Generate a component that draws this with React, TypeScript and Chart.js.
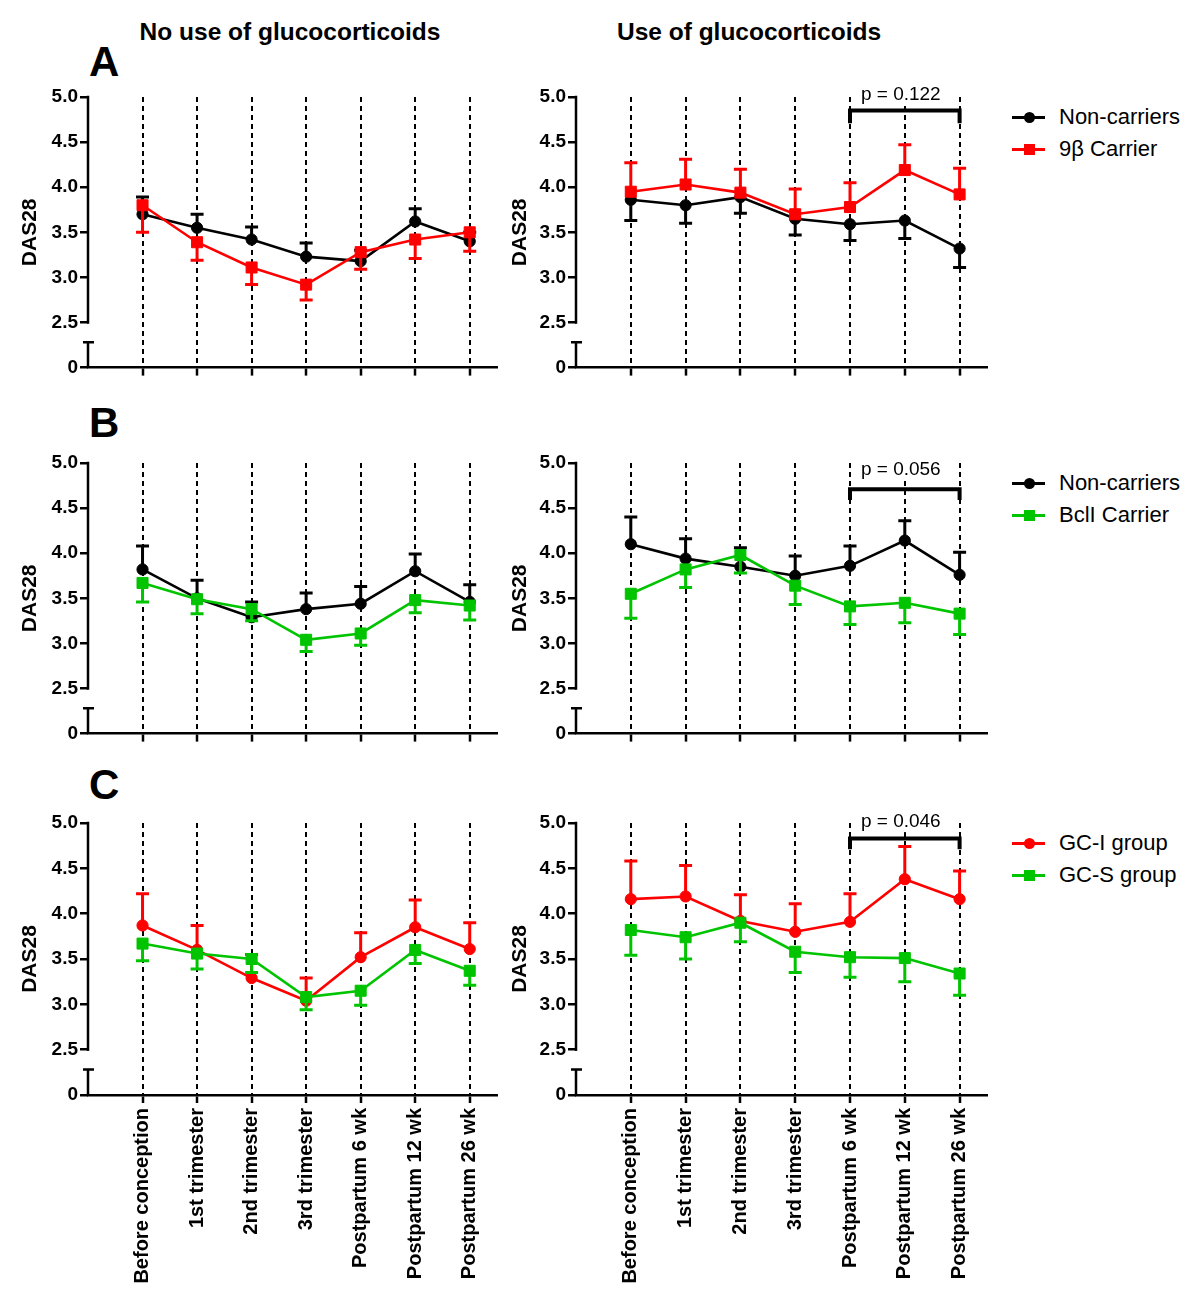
import React, { useEffect, useRef } from 'react';
import { Chart, registerables } from 'chart.js';

Chart.register(...registerables);

const FONT = '"Liberation Sans", Arial, Helvetica, sans-serif';

// ---------- categories & axis ticks ----------
const categories = [
  'Before conception',
  '1st trimester',
  '2nd trimester',
  '3rd trimester',
  'Postpartum 6 wk',
  'Postpartum 12 wk',
  'Postpartum 26 wk',
];
// The y axis is broken: the lowest position (2.0 on the internal scale) shows "0".
const yTickValues = [2.0, 2.5, 3.0, 3.5, 4.0, 4.5, 5.0];
const yTickLabels = ['0', '2.5', '3.0', '3.5', '4.0', '4.5', '5.0'];
const yMin = 2.0;
const yMax = 5.0;
const axisBreakTop = 2.28;
const axisBreakBottom = 2.5;

// ---------- Panel A ----------
const aNoGcNonCarriers = [3.7, 3.55, 3.42, 3.23, 3.18, 3.62, 3.4];
const aNoGcNonCarriersErr = [0.19, 0.15, 0.14, 0.15, 0.12, 0.14, 0.1];
const aNoGc9b = [3.8, 3.39, 3.11, 2.92, 3.28, 3.42, 3.5];
const aNoGc9bErr = [0.3, 0.2, 0.19, 0.17, 0.19, 0.21, 0.21];

const aGcNonCarriers = [3.86, 3.8, 3.89, 3.65, 3.59, 3.63, 3.32];
const aGcNonCarriersErr = [0.23, 0.2, 0.18, 0.18, 0.18, 0.2, 0.21];
const aGc9b = [3.95, 4.03, 3.94, 3.7, 3.78, 4.19, 3.92];
const aGc9bErr = [0.32, 0.28, 0.26, 0.28, 0.27, 0.28, 0.29];

// ---------- Panel B ----------
const bNoGcNonCarriers = [3.82, 3.5, 3.29, 3.38, 3.44, 3.8, 3.46];
const bNoGcNonCarriersErr = [0.26, 0.2, 0.17, 0.18, 0.19, 0.19, 0.19];
const bNoGcBcl = [3.67, 3.49, 3.38, 3.04, 3.11, 3.48, 3.42];
const bNoGcBclErr = [0.21, 0.16, 0.13, 0.13, 0.13, 0.14, 0.16];

const bGcNonCarriers = [4.1, 3.94, 3.85, 3.75, 3.86, 4.14, 3.76];
const bGcNonCarriersErr = [0.3, 0.22, 0.21, 0.22, 0.22, 0.22, 0.25];
const bGcBcl = [3.55, 3.82, 3.98, 3.64, 3.41, 3.45, 3.33];
const bGcBclErr = [0.27, 0.2, 0.2, 0.21, 0.2, 0.22, 0.23];

// ---------- Panel C ----------
const cNoGcGcI = [3.87, 3.6, 3.29, 3.04, 3.52, 3.85, 3.61];
const cNoGcGcIErr = [0.35, 0.27, 0.26, 0.25, 0.27, 0.3, 0.29];
const cNoGcGcS = [3.67, 3.56, 3.5, 3.08, 3.15, 3.6, 3.37];
const cNoGcGcSErr = [0.19, 0.17, 0.15, 0.14, 0.16, 0.15, 0.16];

const cGcGcI = [4.16, 4.19, 3.92, 3.8, 3.91, 4.38, 4.16];
const cGcGcIErr = [0.42, 0.34, 0.29, 0.31, 0.31, 0.36, 0.31];
const cGcGcS = [3.82, 3.74, 3.9, 3.58, 3.52, 3.51, 3.34];
const cGcGcSErr = [0.28, 0.24, 0.21, 0.23, 0.22, 0.26, 0.24];

// ---------- p-value brackets ----------
const pLabels = ['p = 0.122', 'p = 0.056', 'p = 0.046'];
const pBracketLevels = [4.85, 4.71, 4.83];
const pBracketLegs = [4.71, 4.59, 4.71];
const pLabelLevels = [5.03, 4.92, 5.01];

const BLACK = '#000000';
const RED = '#ff0000';
const GREEN = '#00c400';

type Series = {
  label: string;
  color: string;
  shape: 'circle' | 'rect';
  mean: number[];
  err: number[];
  dir: 1 | -1;
};

type Bracket = { from: number; to: number; level: number; legBottom: number; label: string; labelLevel: number };

const errorBarPlugin = {
  id: 'errorBars',
  beforeDatasetDraw(chart: any, args: any) {
    const ds = chart.data.datasets[args.index];
    if (!ds.errors) return;
    const xs = chart.scales.x;
    const ys = chart.scales.y;
    const ctx = chart.ctx;
    ctx.save();
    ctx.strokeStyle = ds.borderColor;
    ctx.lineWidth = 3;
    ds.data.forEach((pt: any, i: number) => {
      const px = xs.getPixelForValue(pt.x);
      const py = ys.getPixelForValue(pt.y);
      const pe = ys.getPixelForValue(pt.y + ds.errorDir * ds.errors[i]);
      ctx.beginPath();
      ctx.moveTo(px, py);
      ctx.lineTo(px, pe);
      ctx.moveTo(px - 6.5, pe);
      ctx.lineTo(px + 6.5, pe);
      ctx.stroke();
    });
    ctx.restore();
  },
};

const axisBreakPlugin = {
  id: 'axisBreak',
  afterDatasetsDraw(chart: any) {
    const ys = chart.scales.y;
    const x = chart.chartArea.left;
    const ctx = chart.ctx;
    ctx.save();
    ctx.strokeStyle = BLACK;
    ctx.lineWidth = 2.5;
    ctx.lineCap = 'square';
    ctx.beginPath();
    ctx.moveTo(x, ys.getPixelForValue(yMax));
    ctx.lineTo(x, ys.getPixelForValue(axisBreakBottom));
    ctx.stroke();
    const t = ys.getPixelForValue(axisBreakTop);
    ctx.lineCap = 'butt';
    ctx.beginPath();
    ctx.moveTo(x, t);
    ctx.lineTo(x, ys.getPixelForValue(yMin));
    ctx.moveTo(x - 5, t);
    ctx.lineTo(x + 6, t);
    ctx.stroke();
    ctx.restore();
  },
};

const bracketPlugin = {
  id: 'pBracket',
  afterDatasetsDraw(chart: any, _args: any, opts: any) {
    if (!opts || opts.label === undefined) return;
    const xs = chart.scales.x;
    const ys = chart.scales.y;
    const ctx = chart.ctx;
    const x1 = xs.getPixelForValue(opts.from);
    const x2 = xs.getPixelForValue(opts.to);
    const yl = ys.getPixelForValue(opts.level);
    const yb = ys.getPixelForValue(opts.legBottom);
    ctx.save();
    // label with a white backing so the dashed lines do not run through it
    ctx.font = `19px ${FONT}`;
    ctx.textAlign = 'center';
    ctx.textBaseline = 'middle';
    const tx = (x1 + x2) / 2 - 4;
    const ty = ys.getPixelForValue(opts.labelLevel);
    const tw = ctx.measureText(opts.label).width;
    ctx.fillStyle = '#ffffff';
    ctx.fillRect(tx - tw / 2 - 2, ty - 10, tw + 4, 20);
    ctx.fillStyle = BLACK;
    ctx.fillText(opts.label, tx, ty);
    ctx.strokeStyle = BLACK;
    ctx.lineWidth = 4;
    ctx.lineJoin = 'miter';
    ctx.beginPath();
    ctx.moveTo(x1, yb);
    ctx.lineTo(x1, yl);
    ctx.lineTo(x2, yl);
    ctx.lineTo(x2, yb);
    ctx.stroke();
    ctx.restore();
  },
};

const CANVAS_W = 520;
const TOP_PAD = 37;
const AREA_H = 272;

type PanelProps = {
  left: number;
  top: number;
  yAxisWidth: number;
  showX: boolean;
  series: Series[];
  bracket?: Bracket;
};

function Panel(p: PanelProps) {
  const ref = useRef<HTMLCanvasElement>(null);
  const xAxisH = p.showX ? 205 : 12;
  const H = TOP_PAD + AREA_H + xAxisH;

  useEffect(() => {
    const chart = new Chart(ref.current as HTMLCanvasElement, {
      type: 'line',
      data: {
        datasets: p.series.map((s, k) => ({
          label: s.label,
          data: s.mean.map((v, i) => ({ x: i, y: v })),
          borderColor: s.color,
          backgroundColor: s.color,
          pointBackgroundColor: s.color,
          pointBorderColor: s.color,
          pointStyle: s.shape,
          pointRadius: s.shape === 'rect' ? 7.8 : 5.6,
          pointBorderWidth: 1,
          borderWidth: 2.6,
          tension: 0,
          clip: false,
          order: p.series.length - 1 - k,
          errors: s.err,
          errorDir: s.dir,
        })) as any,
      },
      options: {
        animation: false,
        responsive: false,
        devicePixelRatio: 1,
        events: [],
        layout: { padding: { left: 0, right: 23, top: TOP_PAD, bottom: 0 } },
        plugins: {
          legend: { display: false },
          tooltip: { enabled: false },
          pBracket: p.bracket ? (p.bracket as any) : false,
        } as any,
        scales: {
          x: {
            type: 'linear',
            min: -1,
            max: 6.5,
            afterBuildTicks: (s: any) => {
              s.ticks = categories.map((_, i) => ({ value: i }));
            },
            afterFit: (s: any) => {
              s.height = xAxisH;
            },
            ticks: {
              display: p.showX,
              autoSkip: false,
              maxRotation: 90,
              minRotation: 90,
              padding: 5,
              color: BLACK,
              font: { family: FONT, size: 20, weight: 'bold' },
              callback: (v: any) => categories[v as number] ?? '',
            },
            grid: {
              display: true,
              drawOnChartArea: true,
              drawTicks: true,
              color: BLACK,
              lineWidth: 2,
              tickLength: 8,
              tickWidth: 2.5,
              tickColor: BLACK,
            },
            border: { display: true, color: BLACK, width: 2.5, dash: [5, 4] },
          },
          y: {
            type: 'linear',
            min: yMin,
            max: yMax,
            afterBuildTicks: (s: any) => {
              s.ticks = yTickValues.map((v) => ({ value: v }));
            },
            afterFit: (s: any) => {
              s.width = p.yAxisWidth;
            },
            ticks: {
              padding: 2,
              color: BLACK,
              font: { family: FONT, size: 19, weight: 'bold' },
              callback: (v: any) => {
                const idx = yTickValues.findIndex((t) => Math.abs(t - v) < 1e-6);
                return idx >= 0 ? yTickLabels[idx] : '';
              },
            },
            grid: {
              display: true,
              drawOnChartArea: false,
              drawTicks: true,
              color: BLACK,
              lineWidth: 2.5,
              tickLength: 8,
              tickColor: BLACK,
            },
            border: { display: false },
            title: {
              display: true,
              text: 'DAS28',
              color: BLACK,
              font: { family: FONT, size: 21, weight: 'bold' },
              padding: { top: 18, bottom: 0 },
            },
          },
        } as any,
      },
      plugins: [errorBarPlugin, axisBreakPlugin, bracketPlugin],
    });
    return () => chart.destroy();
  }, []);

  return (
    <canvas
      ref={ref}
      width={CANVAS_W}
      height={H}
      style={{ position: 'absolute', left: p.left, top: p.top, width: CANVAS_W, height: H }}
    />
  );
}

function Legend({ top, items }: { top: number; items: Series[] }) {
  return (
    <>
      {items.map((it, k) => {
        const cy = top + k * 32;
        return (
          <React.Fragment key={k}>
            <div style={{ position: 'absolute', left: 1012, top: cy - 1.5, width: 33, height: 3, background: it.color }} />
            <div
              style={{
                position: 'absolute',
                left: 1023.5,
                top: cy - 5.5,
                width: 11,
                height: 11,
                background: it.color,
                borderRadius: it.shape === 'circle' ? '50%' : 0,
              }}
            />
            <div
              style={{
                position: 'absolute',
                left: 1059,
                top: cy - 11,
                fontSize: 22,
                lineHeight: '22px',
                whiteSpace: 'nowrap',
                color: BLACK,
              }}
            >
              {it.label}
            </div>
          </React.Fragment>
        );
      })}
    </>
  );
}

const mk = (label: string, color: string, shape: 'circle' | 'rect', mean: number[], err: number[], dir: 1 | -1): Series => ({
  label,
  color,
  shape,
  mean,
  err,
  dir,
});

const PANEL_TOPS = [60, 426, 786];

export default function App() {
  const rows = [
    {
      letter: 'A',
      left: [
        mk('Non-carriers', BLACK, 'circle', aNoGcNonCarriers, aNoGcNonCarriersErr, 1),
        mk('9β Carrier', RED, 'rect', aNoGc9b, aNoGc9bErr, -1),
      ],
      right: [
        mk('Non-carriers', BLACK, 'circle', aGcNonCarriers, aGcNonCarriersErr, -1),
        mk('9β Carrier', RED, 'rect', aGc9b, aGc9bErr, 1),
      ],
    },
    {
      letter: 'B',
      left: [
        mk('Non-carriers', BLACK, 'circle', bNoGcNonCarriers, bNoGcNonCarriersErr, 1),
        mk('BclI Carrier', GREEN, 'rect', bNoGcBcl, bNoGcBclErr, -1),
      ],
      right: [
        mk('Non-carriers', BLACK, 'circle', bGcNonCarriers, bGcNonCarriersErr, 1),
        mk('BclI Carrier', GREEN, 'rect', bGcBcl, bGcBclErr, -1),
      ],
    },
    {
      letter: 'C',
      left: [
        mk('GC-I group', RED, 'circle', cNoGcGcI, cNoGcGcIErr, 1),
        mk('GC-S group', GREEN, 'rect', cNoGcGcS, cNoGcGcSErr, -1),
      ],
      right: [
        mk('GC-I group', RED, 'circle', cGcGcI, cGcGcIErr, 1),
        mk('GC-S group', GREEN, 'rect', cGcGcS, cGcGcSErr, -1),
      ],
    },
  ];

  return (
    <div
      style={{
        position: 'absolute',
        left: 0,
        top: 0,
        width: 1200,
        height: 1309,
        background: '#fff',
        overflow: 'hidden',
        fontFamily: FONT,
        color: BLACK,
      }}
    >
      <div
        style={{
          position: 'absolute',
          left: 90,
          width: 400,
          top: 20,
          textAlign: 'center',
          fontSize: 24.5,
          fontWeight: 'bold',
          lineHeight: 1,
          whiteSpace: 'nowrap',
        }}
      >
        No use of glucocorticoids
      </div>
      <div
        style={{
          position: 'absolute',
          left: 549,
          width: 400,
          top: 20,
          textAlign: 'center',
          fontSize: 24.5,
          fontWeight: 'bold',
          lineHeight: 1,
          whiteSpace: 'nowrap',
        }}
      >
        Use of glucocorticoids
      </div>
      {rows.map((r, i) => (
        <React.Fragment key={r.letter}>
          <div
            style={{
              position: 'absolute',
              left: 89,
              top: [41, 402, 764][i],
              fontSize: 42,
              fontWeight: 'bold',
              lineHeight: 1,
            }}
          >
            {r.letter}
          </div>
          <Panel left={0} top={PANEL_TOPS[i]} yAxisWidth={88} showX={i === 2} series={r.left} />
          <Panel
            left={490}
            top={PANEL_TOPS[i]}
            yAxisWidth={86}
            showX={i === 2}
            series={r.right}
            bracket={{
              from: 4,
              to: 6,
              level: pBracketLevels[i],
              legBottom: pBracketLegs[i],
              label: pLabels[i],
              labelLevel: pLabelLevels[i],
            }}
          />
          <Legend top={PANEL_TOPS[i] + TOP_PAD + 20} items={r.right} />
        </React.Fragment>
      ))}
    </div>
  );
}
